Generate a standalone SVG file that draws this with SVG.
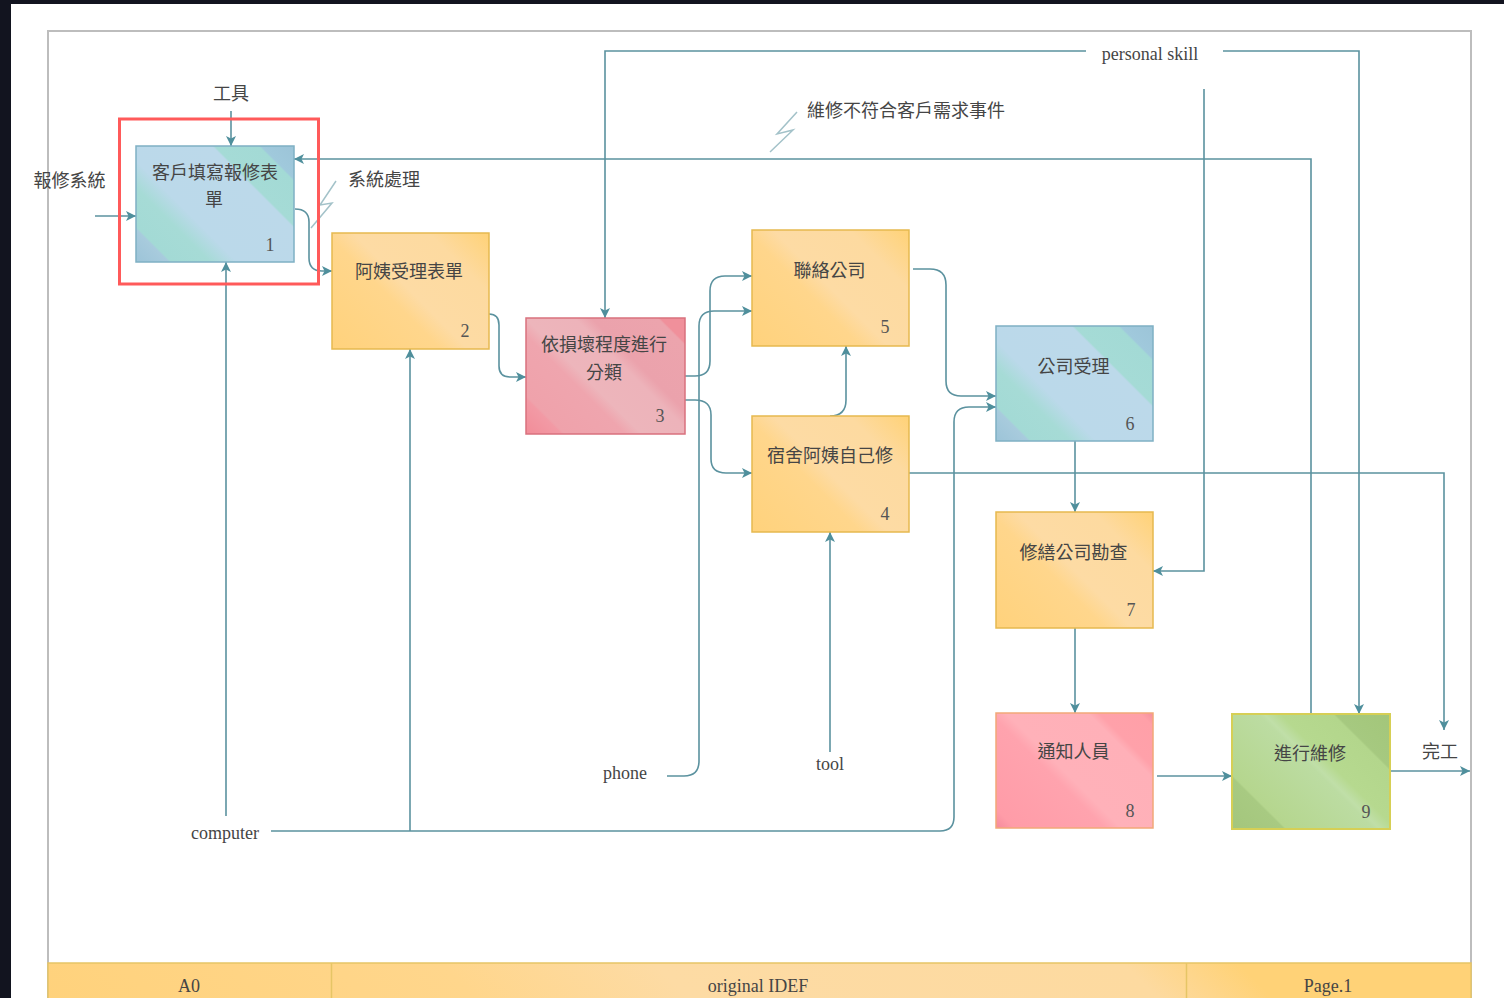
<svg xmlns="http://www.w3.org/2000/svg" width="1504" height="998" viewBox="0 0 1504 998">
<style>
.cjk{font-family:"Noto Sans CJK TC","Liberation Sans",sans-serif;font-size:18px;fill:#454545;text-anchor:middle}
.lat{font-family:"Liberation Serif",serif;font-size:18px;fill:#454545;text-anchor:middle}
.num{font-family:"Liberation Serif",serif;font-size:18px;fill:#555;text-anchor:middle}
.c{fill:none;stroke:#5b929f;stroke-width:1.6;marker-end:url(#a)}
.z{fill:none;stroke:#a3c2c9;stroke-width:1.5}
.box{stroke-width:1.5}
</style>
<defs>
<marker id="a" markerUnits="userSpaceOnUse" markerWidth="11" markerHeight="12" refX="10" refY="6" orient="auto"><path d="M0,1 L10,6 L0,11 L2.5,6 Z" fill="#4f8f9c"/></marker>
<linearGradient id="blue" x1="0" y1="1" x2="1.127" y2="0.173">
<stop offset="0" stop-color="#9cc4d8"/><stop offset=".12" stop-color="#a8cbdd"/><stop offset=".13" stop-color="#a3dad5"/><stop offset=".27" stop-color="#a6dbd6"/><stop offset=".37" stop-color="#bbd9ea"/><stop offset=".7" stop-color="#bcd9ea"/><stop offset=".71" stop-color="#a5dbd6"/><stop offset=".87" stop-color="#a3dad5"/><stop offset=".88" stop-color="#a0c9dc"/><stop offset="1" stop-color="#9cc4d8"/>
</linearGradient>
<linearGradient id="orange" x1="0" y1="1" x2="1.127" y2="0.173">
<stop offset="0" stop-color="#ffd27c"/><stop offset=".4" stop-color="#ffd68c"/><stop offset=".5" stop-color="#fddba4"/><stop offset=".78" stop-color="#fddaa0"/><stop offset="1" stop-color="#ffd277"/>
</linearGradient>
<linearGradient id="bar" gradientUnits="userSpaceOnUse" x1="48" y1="998" x2="760" y2="286">
<stop offset="0" stop-color="#ffd27c"/><stop offset=".3" stop-color="#ffd68c"/><stop offset=".45" stop-color="#fddba4"/><stop offset=".78" stop-color="#fddaa0"/><stop offset=".86" stop-color="#ffd277"/><stop offset="1" stop-color="#ffd277"/>
</linearGradient>
<linearGradient id="red" x1="0" y1="1" x2="1.127" y2="0.173">
<stop offset="0" stop-color="#f28c98"/><stop offset=".13" stop-color="#f29aa5"/><stop offset=".14" stop-color="#efa2ab"/><stop offset=".36" stop-color="#efa5ae"/><stop offset=".42" stop-color="#edb5bb"/><stop offset=".6" stop-color="#edb3ba"/><stop offset=".66" stop-color="#eba2ac"/><stop offset=".9" stop-color="#eca4ad"/><stop offset=".91" stop-color="#f0909b"/><stop offset="1" stop-color="#f0909b"/>
</linearGradient>
<linearGradient id="pink" x1="0" y1="1" x2="1.127" y2="0.173">
<stop offset="0" stop-color="#f58a9c"/><stop offset=".07" stop-color="#ff9ca8"/><stop offset=".4" stop-color="#ffa3ae"/><stop offset=".46" stop-color="#ffb1b9"/><stop offset=".76" stop-color="#ffb0b8"/><stop offset=".8" stop-color="#ffa1aa"/><stop offset=".95" stop-color="#ffa0a8"/><stop offset="1" stop-color="#f58f9c"/>
</linearGradient>
<linearGradient id="green" x1="0" y1="1" x2="1.127" y2="0.173">
<stop offset="0" stop-color="#a4c67c"/><stop offset=".19" stop-color="#a8ca82"/><stop offset=".2" stop-color="#b5d68e"/><stop offset=".52" stop-color="#bcdca2"/><stop offset=".54" stop-color="#c0dfa8"/><stop offset=".6" stop-color="#b6d98f"/><stop offset=".79" stop-color="#b3d68c"/><stop offset=".8" stop-color="#a6c980"/><stop offset="1" stop-color="#a3c67a"/>
</linearGradient>
</defs>
<rect width="1504" height="998" fill="#fff"/>
<rect width="1504" height="4" fill="#12141f"/>
<rect width="11" height="998" fill="#12141f"/>
<g id="frame">
<rect x="48" y="31" width="1423" height="980" fill="#fff" stroke="#bdbdbd" stroke-width="2"/>
<rect x="48" y="963" width="1423" height="40" fill="url(#bar)" stroke="#e6c566" stroke-width="1.5"/>
<path d="M331.500,963V998M1186.500,963V998" stroke="#e6c566" stroke-width="1.5" fill="none"/>
<text class="lat" x="189" y="992">A0</text>
<text class="lat" x="758" y="992">original IDEF</text>
<text class="lat" x="1328" y="992">Page.1</text>
</g>
<g id="connectors">
<path class="c" d="M231,111V146"/>
<path class="c" d="M95,216H136"/>
<path class="c" d="M295,209Q309,209 309,222V258Q309,271 322,271H332"/>
<path class="c" d="M489,314Q499,314 499,325V366Q499,377 510,377H526"/>
<path class="c" d="M685,376H695Q710,376 710,361V291Q710,276 725,276H752"/>
<path class="c" d="M667,776H684Q699,776 699,761V326Q699,311 714,311H752"/>
<path class="c" d="M685,400H695Q711,400 711,415V459Q711,473 726,473H752"/>
<path class="c" d="M830,416Q846,416 846,400V346"/>
<path class="c" d="M913,269H930Q946,269 946,285V381Q946,396 961,396H996"/>
<path class="c" d="M271,831H940Q954,831 954,817V422Q954,407 969,407H996"/>
<path class="c" d="M410,831V349"/>
<path class="c" d="M226,816V262"/>
<path class="c" d="M830,752V532"/>
<path class="c" d="M1075,441V512"/>
<path class="c" d="M1075,628V713"/>
<path class="c" d="M1157,776H1232"/>
<path class="c" d="M1086,51H605V318"/>
<path class="c" d="M1223,51H1359V714"/>
<path class="c" d="M1204,89V571H1153"/>
<path class="c" d="M909,473H1444V730"/>
<path class="c" d="M1390,771H1470"/>
<path class="c" d="M1311,714V159H294"/>
<path class="z" d="M797,112L777,134L793,130L770,152"/>
<path class="z" d="M336,181L320,205L332,203L311,228"/>
</g>
<g id="labels">
<text class="cjk" x="69.500" y="187">報修系統</text>
<text class="cjk" x="231" y="100">工具</text>
<text class="cjk" x="384" y="186">系統處理</text>
<text class="cjk" x="906" y="117">維修不符合客戶需求事件</text>
<text class="lat" x="1150" y="60">personal skill</text>
<text class="lat" x="625" y="779">phone</text>
<text class="lat" x="830" y="770">tool</text>
<text class="lat" x="225" y="839">computer</text>
<text class="cjk" x="1440" y="758">完工</text>
</g>
<g id="node1"><rect class="box" x="136" y="146" width="158" height="116" fill="url(#blue)" stroke="#7fb0c4"/><text class="cjk" x="215" y="178.500">客戶填寫報修表</text><text class="cjk" x="214" y="205.500">單</text><text class="num" x="270" y="251">1</text></g>
<g id="node2"><rect class="box" x="332" y="233" width="157" height="116" fill="url(#orange)" stroke="#e6b94f"/><text class="cjk" x="409" y="277.500">阿姨受理表單</text><text class="num" x="465" y="337">2</text></g>
<g id="node3"><rect class="box" x="526" y="318" width="159" height="116" fill="url(#red)" stroke="#d9717e"/><text class="cjk" x="604" y="351">依損壞程度進行</text><text class="cjk" x="604" y="379">分類</text><text class="num" x="660" y="422">3</text></g>
<g id="node4"><rect class="box" x="752" y="416" width="157" height="116" fill="url(#orange)" stroke="#e6b94f"/><text class="cjk" x="830" y="461.500">宿舍阿姨自己修</text><text class="num" x="885" y="520">4</text></g>
<g id="node5"><rect class="box" x="752" y="230" width="157" height="116" fill="url(#orange)" stroke="#e6b94f"/><text class="cjk" x="829.500" y="276.500">聯絡公司</text><text class="num" x="885" y="333">5</text></g>
<g id="node6"><rect class="box" x="996" y="326" width="157" height="115" fill="url(#blue)" stroke="#7fb0c4"/><text class="cjk" x="1073.500" y="372.500">公司受理</text><text class="num" x="1130" y="430">6</text></g>
<g id="node7"><rect class="box" x="996" y="512" width="157" height="116" fill="url(#orange)" stroke="#e6b94f"/><text class="cjk" x="1073.500" y="558.500">修繕公司勘查</text><text class="num" x="1131" y="616">7</text></g>
<g id="node8"><rect class="box" x="996" y="713" width="157" height="115" fill="url(#pink)" stroke="#f2a878"/><text class="cjk" x="1073.500" y="757.500">通知人員</text><text class="num" x="1130" y="817">8</text></g>
<g id="node9"><rect x="1232" y="714" width="158" height="115" fill="url(#green)" stroke="#d6cf55" stroke-width="2"/><text class="cjk" x="1310" y="759.500">進行維修</text><text class="num" x="1366" y="818">9</text></g>
<rect id="highlight" x="119.500" y="119" width="199" height="165" fill="none" stroke="#ff5a5a" stroke-width="3"/>
</svg>
